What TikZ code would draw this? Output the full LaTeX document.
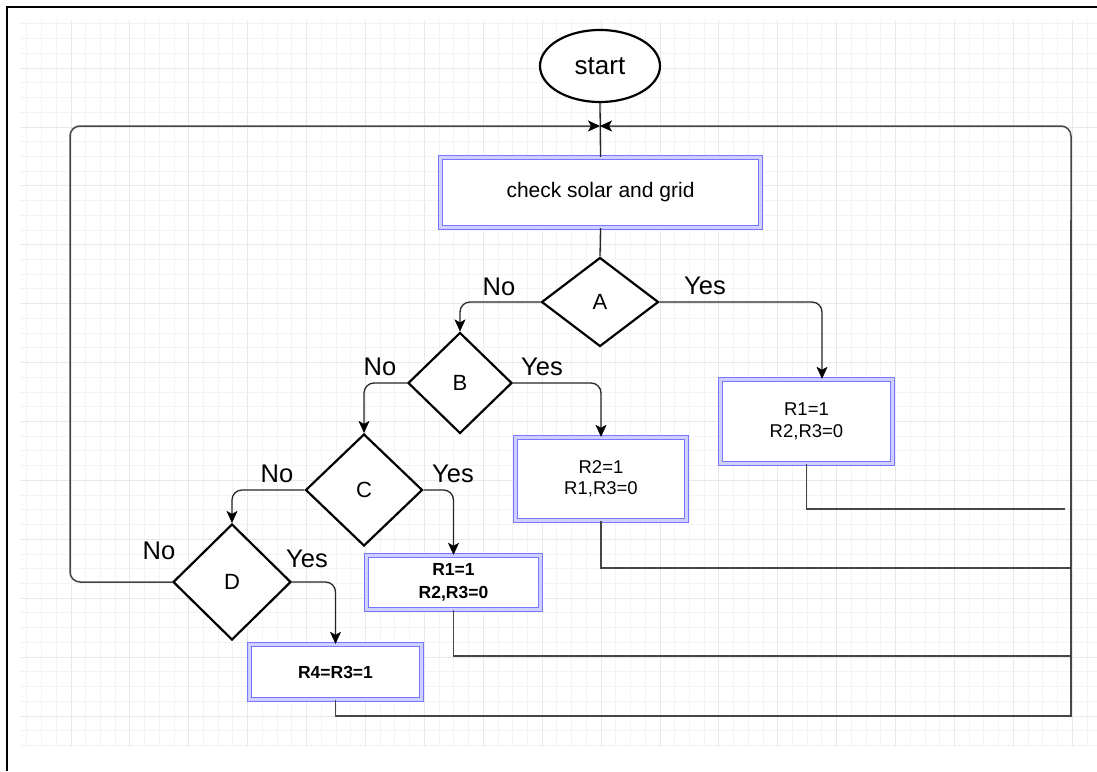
\documentclass[tikz,border=0pt]{standalone}
\usepackage{fontspec}
\setmainfont{Liberation Sans}
\usetikzlibrary{shapes.geometric,arrows.meta}
\definecolor{gridminor}{RGB}{243,243,243}
\definecolor{gridmajor}{RGB}{232,232,232}
\definecolor{boxblue}{RGB}{118,118,255}
\definecolor{boxpale}{RGB}{208,208,255}
\definecolor{linegray}{RGB}{70,70,70}
\tikzset{
  tip/.tip={Stealth[length=12pt,width=11pt,inset=3pt,color=black,line width=0.5pt,sharp]},
  conn/.style={draw=black!85, line width=1.3pt, rounded corners=10pt, -tip},
  plainline/.style={draw=linegray, line width=1.5pt},
  decision/.style={diamond, draw=black, line width=2.2pt, fill=white, inner sep=0pt,
    font=\fontsize{22}{26}\selectfont},
  action/.style={rectangle, draw=boxblue, double=boxpale, double distance=2.2pt,
    line width=1.4pt, fill=white, align=center, inner sep=0pt},
  lbl/.style={inner sep=0pt, font=\fontsize{25.5}{30}\selectfont},
}
\begin{document}
\begin{tikzpicture}[x=1pt,y=-1pt]
\useasboundingbox (0,0) rectangle (1097,771);
\fill[white] (0,0) rectangle (1097,771);
% grid
\foreach \i in {-3,...,73} {
  \pgfmathsetmacro\xx{71+14.725*\i}
  \pgfmathtruncatemacro\mm{mod(\i+400,4)}
  \ifnum\mm=0
    \draw[gridmajor, line width=1pt] (\xx,20) -- (\xx,747);
  \else
    \draw[gridminor, line width=1pt] (\xx,20) -- (\xx,747);
  \fi
}
\foreach \j in {-47,...,2} {
  \pgfmathsetmacro\yy{716+14.725*\j}
  \pgfmathtruncatemacro\mm{mod(\j+400,4)}
  \ifnum\mm=0
    \draw[gridmajor, line width=1pt] (20,\yy) -- (1097,\yy);
  \else
    \draw[gridminor, line width=1pt] (20,\yy) -- (1097,\yy);
  \fi
}
% frame
\draw[black, line width=2.5pt] (7,771) -- (7,7) -- (1097,7);

% nodes
\node[ellipse, draw=black, line width=2.2pt, fill=white, minimum width=120pt, minimum height=72pt,
  inner sep=0pt, font=\fontsize{26}{30}\selectfont] (start) at (600,66) {start};
\node[action, minimum width=320pt, minimum height=70pt, font=\fontsize{21}{25}\selectfont]
  (chk) at (600.5,192.5) {check solar and grid};
\node[decision, minimum width=117pt, minimum height=89pt] (A) at (600,302) {A};
\node[decision, minimum width=104pt, minimum height=101pt] (B) at (460,383) {B};
\node[decision, minimum width=117pt, minimum height=112pt] (C) at (364,490) {C};
\node[decision, minimum width=118pt, minimum height=116pt] (D) at (232,582) {D};

\node[action, minimum width=172pt, minimum height=84pt, font=\fontsize{18.5}{22}\selectfont]
  (RA) at (806.5,421.5) {R1=1\\R2,R3=0};
\node[action, minimum width=171pt, minimum height=83pt, font=\fontsize{18.5}{21}\selectfont]
  (RB) at (601,479) {R2=1\\R1,R3=0};
\node[action, minimum width=174pt, minimum height=54pt, font=\fontsize{17.5}{23}\selectfont\bfseries]
  (RC) at (453.5,582.5) {R1=1\\R2,R3=0};
\node[action, minimum width=172pt, minimum height=55pt, font=\fontsize{17.5}{22}\selectfont\bfseries]
  (RD) at (335.5,672) {R4=R3=1};

% coordinates for the return loop
\coordinate (J) at (600,126);
\coordinate (LL) at (70,126);
\coordinate (RR) at (1071,126);
\coordinate (RV) at (1071,220);
\coordinate (BR) at (1071,716);
\coordinate (RAend) at (1065,509);
\coordinate (RBend) at (1071,568);
\coordinate (RCend) at (1071,656);

% labels
\node[lbl] (lAno) at (499,287) {No};
\node[lbl] (lAyes) at (705,286) {Yes};
\node[lbl] (lBno) at (380,367) {No};
\node[lbl] (lByes) at (542,367) {Yes};
\node[lbl] (lCno) at (277,474) {No};
\node[lbl] (lCyes) at (453,474) {Yes};
\node[lbl] (lDno) at (159,551) {No};
\node[lbl] (lDyes) at (307,559) {Yes};

% returns from action boxes
\draw[plainline] (RA.south) |- (RAend);
\draw[plainline] (RB.south) |- (RBend);
\draw[plainline] (RC.south) |- (RCend);
\draw[plainline] (RD.south) |- (BR) -- (RV);

% main flow
\draw[draw=black!85, line width=1.3pt] (start.south) -- (chk.north);
\draw[draw=black!85, line width=1.3pt] (chk.south) -- (A.north);
\draw[conn] (A.west) -| (B.north);
\draw[conn] (A.east) -| ([xshift=15.5pt]RA.north);
\draw[conn] (B.west) -| (C.north);
\draw[conn] (B.east) -| (RB.north);
\draw[conn] (C.west) -| (D.north);
\draw[conn] (C.east) -| (RC.north);
\draw[conn] (D.east) -| (RD.north);
\draw[conn, draw=linegray, line width=1.5pt] (D.west) -| (LL) -- (J);
\draw[conn, draw=linegray, line width=1.5pt] (RV) -- (RR) -- (J);
\end{tikzpicture}
\end{document}
